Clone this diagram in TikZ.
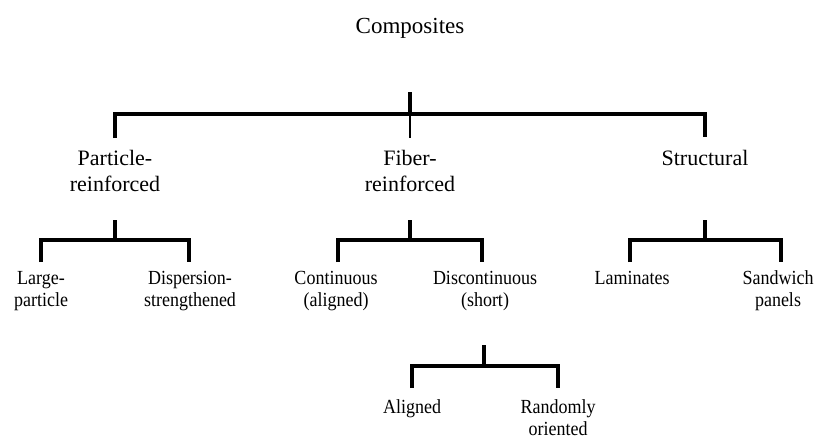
\documentclass[tikz,border=0pt]{standalone}
\usepackage{fontspec}
\setmainfont{Liberation Serif}
\newfontfamily\condfont[FakeStretch=0.9]{Liberation Serif}
\begin{document}
\begin{tikzpicture}[x=1pt,y=-1pt,
  lblA/.style={anchor=base, inner sep=0pt, align=center, font=\fontsize{22}{26}\selectfont},
  lblB/.style={anchor=base, inner sep=0pt, align=center, font=\condfont\fontsize{20}{22}\selectfont},
  ttl/.style={anchor=base, inner sep=0pt, font=\fontsize{23}{26}\selectfont},
  brk/.style={line width=4.5pt, line join=miter, line cap=butt},
  thinleg/.style={line width=2.5pt, line cap=butt}]
\useasboundingbox (0,0) rectangle (817,440);
% labels (anchor base = baseline of the last line)
\node[ttl] (root) at (410,33) {Composites};
\node[lblA] (pr) at (115,191) {Particle-\\reinforced};
\node[lblA] (fr) at (410,191) {Fiber-\\reinforced};
\node[lblA] (st) at (705,165) {Structural};
\node[lblB] (lp) at (41,306) {Large-\\particle};
\node[lblB] (ds) at (190,306) {Dispersion-\\strengthened};
\node[lblB] (co) at (336,306) {Continuous\\(aligned)};
\node[lblB] (dc) at (485,306) {Discontinuous\\(short)};
\node[lblB] (la) at (632,284) {Laminates};
\node[lblB] (sw) at (778,306) {Sandwich\\panels};
\node[lblB] (al) at (412,413) {Aligned};
\node[lblB] (ro) at (558,435) {Randomly\\oriented};
% bracket coordinates
\coordinate (r-s) at (410,92);
\coordinate (r-b) at (410,114);
\coordinate (pr-in) at (115,138);
\coordinate (fr-in) at (410,138);
\coordinate (st-in) at (705,137);
\coordinate (pr-s) at (115,220);
\coordinate (pr-b) at (115,240);
\coordinate (lp-in) at (41,262);
\coordinate (ds-in) at (189,262);
\coordinate (fr-s) at (410,220);
\coordinate (fr-b) at (410,240);
\coordinate (co-in) at (338,262);
\coordinate (dc-in) at (482,262);
\coordinate (st-s) at (705,220);
\coordinate (st-b) at (705,240);
\coordinate (la-in) at (630,262);
\coordinate (sw-in) at (781,262);
\coordinate (dc-s) at (484,345);
\coordinate (dc-b) at (484,366);
\coordinate (al-in) at (412,388);
\coordinate (ro-in) at (558,388);
% brackets
\draw[brk] (r-s) -- (r-b);
\draw[brk] (pr-in) |- (r-b) -| (st-in);
\draw[thinleg] (r-b) -- (fr-in);
\draw[brk] (pr-s) -- (pr-b);
\draw[brk] (lp-in) |- (pr-b) -| (ds-in);
\draw[brk] (fr-s) -- (fr-b);
\draw[brk] (co-in) |- (fr-b) -| (dc-in);
\draw[brk] (st-s) -- (st-b);
\draw[brk] (la-in) |- (st-b) -| (sw-in);
\draw[brk] (dc-s) -- (dc-b);
\draw[brk] (al-in) |- (dc-b) -| (ro-in);
\end{tikzpicture}
\end{document}
